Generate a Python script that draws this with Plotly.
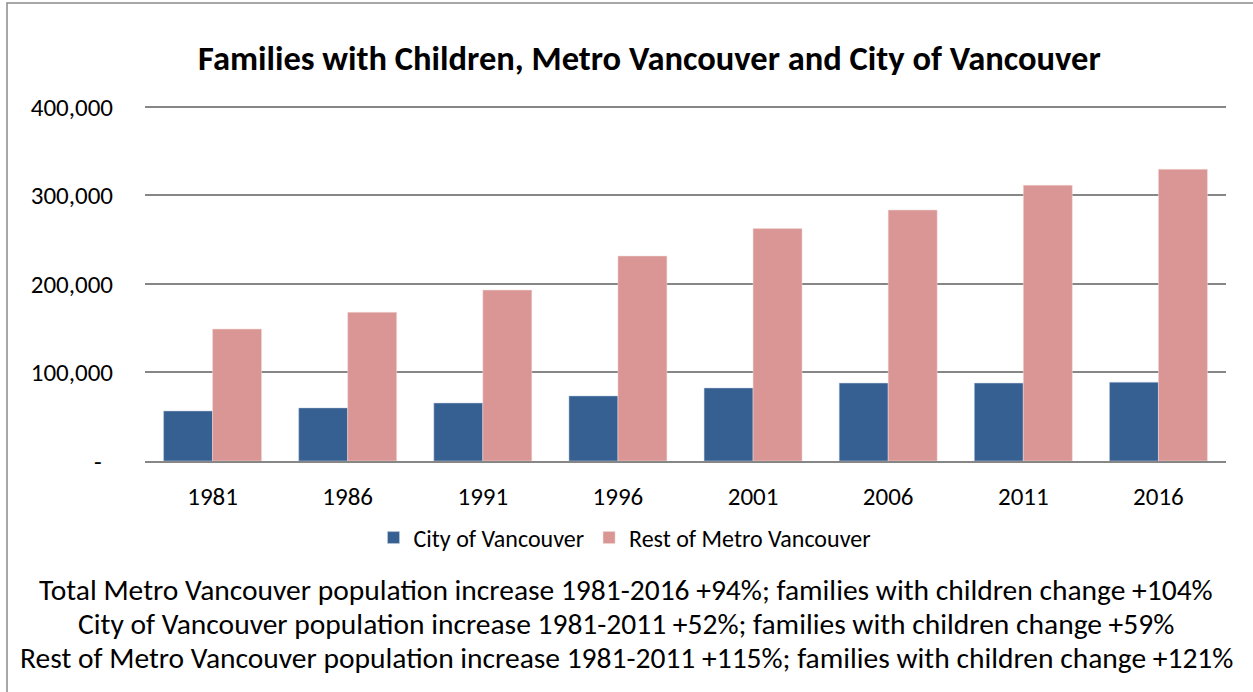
import plotly.graph_objects as go

years = ["1981", "1986", "1991", "1996", "2001", "2006", "2011", "2016"]
city = [56500, 60000, 65500, 73500, 82500, 88000, 88000, 89000]
rest = [149000, 168000, 193000, 231500, 262500, 283500, 311500, 329500]
y_ticks = [0, 100000, 200000, 300000, 400000]
y_tick_labels = ["-\u00a0\u00a0", "100,000", "200,000", "300,000", "400,000"]
title = "Families with Children, Metro Vancouver and City of Vancouver"
notes = [
    "Total Metro Vancouver population increase 1981-2016 +94%; families with children change +104%",
    "City of Vancouver population increase 1981-2011 +52%; families with children change +59%",
    "Rest of Metro Vancouver population increase 1981-2011 +115%; families with children change +121%",
]

FONT = "Carlito, Lato, sans-serif"

fig = go.Figure()
fig.add_trace(go.Bar(x=years, y=city, name="City of Vancouver",
                     marker=dict(color="#376092", line=dict(color="#c9d3e3", width=0.5))))
fig.add_trace(go.Bar(x=years, y=rest, name="Rest of Metro Vancouver",
                     marker=dict(color="#D99694", line=dict(color="#f2dcdb", width=0.5))))

YMAX = 410000
L, R, B = 145, 27, 231
W, H = 1253, 692
ph_400 = 461 - 107
T = int(round(107 - ph_400 * (YMAX - 400000) / 400000))
pw, ph = W - L - R, H - T - B

def px(x):
    return (x - L) / pw

def py(y):
    return (H - B - y) / ph

annotations = [dict(text="<b>%s</b>" % title, x=px(649), y=py(58), xref="paper", yref="paper",
                    showarrow=False, xanchor="center", yanchor="middle",
                    font=dict(family=FONT, size=34.5, color="black"))]
for i, t in enumerate(notes):
    annotations.append(dict(text=t, x=px(626), y=py(590 + 34 * i), xref="paper", yref="paper",
                            showarrow=False, xanchor="center", yanchor="middle",
                            font=dict(family=FONT, size=29.5, color="black")))

fig.update_layout(
    width=W, height=H,
    margin=dict(l=L, r=R, t=T, b=B, pad=0),
    paper_bgcolor="white", plot_bgcolor="white",
    barmode="group", bargap=0.275, bargroupgap=0,
    font=dict(family=FONT, color="black"),
    showlegend=True,
    legend=dict(orientation="h", x=px(625), y=py(538), xanchor="center", yanchor="middle",
                font=dict(family=FONT, size=24, color="black"), itemwidth=30,
                traceorder="normal"),
    xaxis=dict(showgrid=False, ticks="", showline=True, linecolor="#868686", linewidth=1.5,
               ticklabelstandoff=12,
               tickfont=dict(family=FONT, size=25, color="black")),
    yaxis=dict(range=[0, YMAX], tickvals=y_ticks, ticktext=y_tick_labels,
               showgrid=True, gridcolor="#868686", gridwidth=1.5, zeroline=False,
               ticks="", ticklabelstandoff=31,
               tickfont=dict(family=FONT, size=25, color="black")),
    annotations=annotations,
    shapes=[dict(type="rect", xref="paper", yref="paper",
                 x0=px(7), x1=px(1262), y0=py(700), y1=py(3),
                 line=dict(color="#8a8a8a", width=1.5), fillcolor="rgba(0,0,0,0)", layer="below")],
)

fig.write_html("out.html", config={"displayModeBar": False},
               post_script="document.body.style.margin='0px';document.body.style.padding='0px';")
